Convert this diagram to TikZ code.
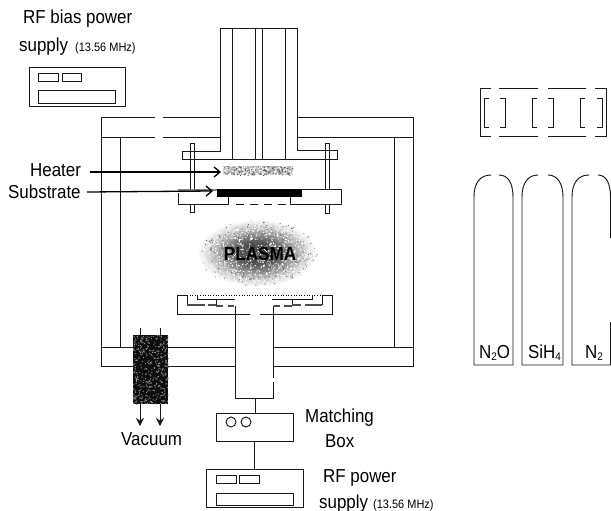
\documentclass[tikz,border=0pt]{standalone}
\usepackage{fontspec}
\setmainfont[FakeStretch=0.9]{Liberation Sans}
\usetikzlibrary{arrows.meta}
\pgfdeclareradialshading{plasmashade}{\pgfpoint{0bp}{0bp}}{color(0bp)=(black!78); color(8bp)=(black!68); color(14bp)=(black!40); color(20bp)=(black!14); color(24bp)=(white); color(50bp)=(white)}
\tikzset{
  ink/.style={line width=0.95pt,draw=black!90},
  lbl/.style={anchor=base west,inner sep=0pt,font=\fontsize{18.8}{20}\selectfont,text=black},
  small/.style={anchor=base west,inner sep=0pt,font=\fontsize{12.2}{14}\selectfont,text=black},
  boxnode/.style={ink,draw,fill=white,inner sep=0pt,outer sep=0pt},
  openhead/.style={-{Straight Barb[length=6pt,width=10pt,line width=1.3pt]},line width=1.3pt,draw=black},
  solidhead/.style={-{Stealth[length=8pt,width=8pt]},ink}
}
\begin{document}
\begin{tikzpicture}[x=1pt,y=-1pt]
\useasboundingbox (0,0) rectangle (611,511);
\fill[white] (0,0) rectangle (611,511);

% chamber
\draw[ink] (220,117) -- (163,117) (155,117) -- (101,117) -- (101,366) -- (133,366);
\draw[ink] (220,137) -- (163,137) (155,137) -- (101,137);
\draw[ink] (120,137) -- (120,347);
\draw[ink] (101,347) -- (133,347) (168,347) -- (235,347) (274,347) -- (413,347);
\draw[ink] (168,366) -- (235,366) (274,366) -- (413,366) -- (413,117) -- (297,117);
\draw[ink] (297,137) -- (413,137) (394,137) -- (394,347);

% tower
\draw[ink] (220,152) -- (220,28) -- (297,28) -- (297,150);
\foreach \tx in {232,255,262,285}{\draw[ink] (\tx,28) -- (\tx,159);}

% upper flange
\draw[ink] (220,151) -- (182,151) -- (182,159) -- (337,159) -- (337,150) -- (297,150);
% bolts
\draw[ink,fill=white] (190,212) -- (190,143) -- (194,143) -- (194,212) -- cycle;
\draw[ink,fill=white] (325,213) -- (325,143) -- (329,143) -- (329,213) -- cycle;
\draw[ink] (182,151) -- (220,151) (182,159) -- (220,159) (297,150) -- (337,150) (297,159) -- (337,159);

% heater (dithered)
\fill[black!28] (223,166) rectangle (293,175);
\pgfmathsetseed{7}
\fill[white] \foreach \i in {1,...,260}{
  ({223+70*rnd},{166+9*rnd}) rectangle ++(1,1)};
\fill[black!65] \foreach \i in {1,...,110}{
  ({223+70*rnd},{166+9*rnd}) rectangle ++(1,1)};

% substrate holder
\fill[white] (178,190) rectangle (341,204);
\draw[ink] (178,193) -- (178,204) -- (228,204) -- (228,197);
\draw[line width=2pt,black!50] (178,190) -- (217,190);
\draw[ink] (302,189) -- (341,189) -- (341,204) -- (290,204) -- (290,197);
\draw[ink,dash pattern=on 8pt off 6pt] (236,204) -- (290,204);
\fill[black] (217,189) rectangle (302,197);
\draw[ink] (190,204) -- (190,212) -- (194,212) -- (194,204);
\draw[ink] (325,204) -- (325,213) -- (329,213) -- (329,204);

% plasma
\shade[shading=plasmashade] (257,253) ellipse (62 and 35);
\pgfmathsetseed{11}
\fill[black!55] \foreach \i in {1,...,500}{
  [/utils/exec={\pgfmathsetmacro\pa{360*rnd}\pgfmathsetmacro\pr{pow(rnd,0.9)}}]
  ({257+60*\pr*cos(\pa)},{253+33*\pr*sin(\pa)}) rectangle ++(1,1)};
\fill[white] \foreach \i in {1,...,900}{
  [/utils/exec={\pgfmathsetmacro\pa{360*rnd}\pgfmathsetmacro\pr{sqrt(rnd)}}]
  ({257+62*\pr*cos(\pa)},{253+34*\pr*sin(\pa)}) rectangle ++(1,1)};
\node[inner sep=0pt,font=\fontsize{19}{20}\bfseries\selectfont,text=black] (plasma) at (260,254) {PLASMA};

% lower electrode
\draw[ink] (187,295) -- (177,295) -- (177,314) -- (250,314) (260,314) -- (332,314) -- (332,295) -- (322,295) -- (322,305);
\draw[ink] (187,295) -- (187,305);
\draw[line width=0.6pt,dotted] (187,295) -- (322,295);
\draw[ink] (197,295) -- (197,299) -- (235,299);
\draw[ink] (216,299) -- (216,306);
\draw[ink] (272,299) -- (312,299) -- (312,295);
\draw[ink] (292,299) -- (292,306);
\draw[line width=1.3pt,black!70] (187,305) -- (205,305) (208,305) -- (216,305) (216,306) -- (223,306) (228,306) -- (234,306);
\draw[line width=1.3pt,black!70] (322,305) -- (305,305) (301,305) -- (292,305) (292,306) -- (284,306) (280,306) -- (274,306);

% column
\draw[ink] (235,306) -- (235,398) -- (273,398) -- (273,382) (273,378) -- (273,306);
\coordinate (colbot) at (255.5,398);

% matching box and supply
\node[boxnode,minimum width=77pt,minimum height=28pt] (match) at (254.5,427) {};
\draw[ink] (231,422) circle (5);
\draw[ink] (246,422) circle (5);
\node[boxnode,minimum width=97pt,minimum height=38pt] (rfbox) at (254.5,488) {};
\node[boxnode,minimum width=20pt,minimum height=8pt] (rfa) at (226,479) {};
\node[boxnode,minimum width=20pt,minimum height=8pt] (rfb) at (249,479) {};
\node[boxnode,minimum width=77pt,minimum height=12pt] (rfc) at (254.5,499) {};
\draw[ink] (colbot) -- (colbot |- match.north);
\draw[ink] (match.south) -- (rfbox.north);

% bias supply
\node[boxnode,minimum width=96pt,minimum height=39pt] (bias) at (77,86.5) {};
\node[boxnode,minimum width=20pt,minimum height=8pt] (bsa) at (48,77) {};
\node[boxnode,minimum width=19pt,minimum height=8pt] (bsb) at (71.5,77) {};
\node[boxnode,minimum width=77pt,minimum height=13pt] (bsc) at (76.5,96.5) {};

% vacuum
\fill[black!95] (133,335) rectangle (168,404);
\pgfmathsetseed{5}
\fill[black!45] \foreach \i in {1,...,380}{
  ({133+35*rnd},{335+69*rnd}) rectangle ++(1,1)};
\coordinate (va) at (140,328);
\coordinate (vb) at (160,328);
\coordinate (vc) at (140,426);
\coordinate (vd) at (160,426);
\draw[ink] (va) -- (140,335);
\draw[ink] (vb) -- (160,335);
\draw[solidhead] (140,404) -- (vc);
\draw[solidhead] (160,404) -- (vd);

% left labels
\node[lbl] (bias1) at (23,24) {RF bias power};
\node[lbl] (bias2) at (19,52) {supply};
\node[small] (bias3) at (75,52) {(13.56 MHz)};
\node[lbl] (heater) at (30,176) {Heater};
\node[lbl] (substrate) at (8,198) {Substrate};
\coordinate (heatertip) at (221,172);
\coordinate (subtip) at (213,191);
\draw[openhead] (90,172) -- (heatertip);
\draw[openhead] (87,192) -- (subtip);
\node[lbl] (vac) at (121,445) {Vacuum};
\node[lbl] (mat1) at (305,422) {Matching};
\node[lbl] (mat2) at (325,447) {Box};
\node[lbl] (rf1) at (323,482) {RF power};
\node[lbl] (rf2) at (319,508) {supply};
\node[small] (rf3) at (373,508) {(13.56 MHz)};

% gas cabinet
\draw[ink] (491,88) -- (480,88) -- (480,136) -- (491,136);
\draw[ink] (499,88) -- (538,88) (548,88) -- (586,88) (595,88) -- (606,88) -- (606,136) -- (595,136) (586,136) -- (548,136) (538,136) -- (499,136);
\foreach \bx in {484,532,580}{
  \draw[ink] (\bx+5,98) -- (\bx,98) -- (\bx,127) -- (\bx+5,127);
}
\foreach \bx in {505,553,602}{
  \draw[ink] (\bx-5,98) -- (\bx,98) -- (\bx,127) -- (\bx-5,127);
}

% bottles
\draw[ink] (491,175) .. controls (480,175) and (474,183) .. (474,197) -- (474,365) -- (513,365) -- (513,197) .. controls (513,183) and (508,175) .. (499,175);
\draw[ink] (538,175) .. controls (528,175) and (522,183) .. (522,197) -- (522,365) -- (563,365) -- (563,197) .. controls (563,183) and (557,175) .. (548,175);
\draw[ink] (589,175) .. controls (578,175) and (572,183) .. (572,197) -- (572,365) -- (610.5,365) -- (610.5,322);
\draw[ink] (610.5,238) -- (610.5,197) .. controls (610.5,183) and (606,175) .. (598,175);
\node[lbl] (gas1) at (479,358) {N\raisebox{-2.5pt}{\fontsize{11}{12}\selectfont 2}O};
\node[lbl] (gas2) at (528,358) {SiH\raisebox{-2.5pt}{\fontsize{11}{12}\selectfont 4}};
\node[lbl] (gas3) at (585,358) {N\raisebox{-2.5pt}{\fontsize{11}{12}\selectfont 2}};
\end{tikzpicture}
\end{document}
